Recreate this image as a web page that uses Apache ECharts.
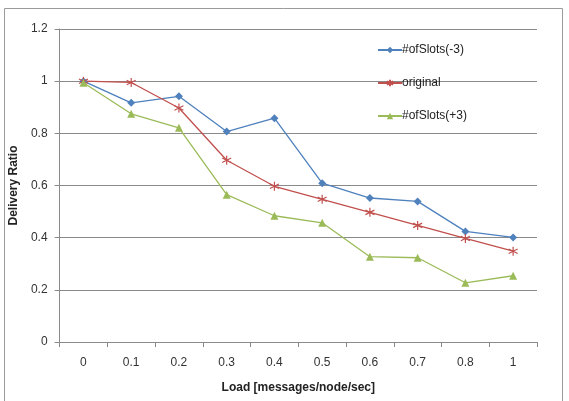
<!DOCTYPE html>
<html>
<head>
<meta charset="utf-8">
<script src="https://cdn.jsdelivr.net/npm/echarts@6/dist/echarts.min.js"></script>
<style>
  html, body { margin: 0; padding: 0; background: #fff; }
  #chart { width: 569px; height: 401px; }
</style>
</head>
<body>
<div id="chart"></div>
<script>
// Load levels (messages/node/sec)
const loads = ['0', '0.1', '0.2', '0.3', '0.4', '0.5', '0.6', '0.7', '0.8', '1'];
// Delivery ratio per configuration
const slotsMinus3 = [1.0, 0.917, 0.942, 0.807, 0.858, 0.609, 0.552, 0.539, 0.424, 0.401];
const original    = [1.0, 0.995, 0.897, 0.697, 0.597, 0.547, 0.497, 0.447, 0.397, 0.348];
const slotsPlus3  = [0.994, 0.875, 0.821, 0.565, 0.484, 0.457, 0.327, 0.323, 0.227, 0.254];
const yTicks = { min: 0, max: 1.2, interval: 0.2 };

const font = 'Liberation Sans, Arial, sans-serif';
const asterisk = 'path://M0,-5L0,5M-4.3,-2.5L4.3,2.5M-4.3,2.5L4.3,-2.5';

const chart = echarts.init(document.getElementById('chart'), null, { renderer: 'canvas' });
chart.setOption({
  animation: false,
  backgroundColor: '#fff',
  graphic: [{
    type: 'rect',
    shape: { x: 4.5, y: 8.5, width: 558, height: 400 },
    style: { fill: 'none', stroke: '#9a9a9a', lineWidth: 1 },
    silent: true,
    z: -1
  }],
  grid: { left: 56, right: 32, top: 29, bottom: 59 },
  legend: {
    orient: 'vertical',
    left: 372,
    top: 39,
    itemWidth: 24,
    itemHeight: 8,
    itemGap: 21,
    textStyle: { fontFamily: font, fontSize: 12, color: '#222', padding: [0, 0, 0, -5] },
    data: ['#ofSlots(-3)', 'original', '#ofSlots(+3)']
  },
  xAxis: {
    type: 'category',
    data: loads,
    boundaryGap: true,
    name: 'Load [messages/node/sec]',
    nameLocation: 'middle',
    nameGap: 40,
    nameTextStyle: { fontFamily: font, fontSize: 12, color: '#222', fontWeight: 'bold' },
    axisLine: { lineStyle: { color: '#8a8a8a' } },
    axisTick: { show: true, length: 5, lineStyle: { color: '#8a8a8a' } },
    axisLabel: { fontFamily: font, fontSize: 12, color: '#333', margin: 15 },
    splitLine: { show: false }
  },
  yAxis: {
    type: 'value',
    min: yTicks.min,
    max: yTicks.max,
    interval: yTicks.interval,
    name: 'Delivery Ratio',
    nameLocation: 'middle',
    nameGap: 33,
    nameTextStyle: { fontFamily: font, fontSize: 12, color: '#222', fontWeight: 'bold' },
    axisLine: { show: true, lineStyle: { color: '#8a8a8a' } },
    axisTick: { show: true, length: 5, inside: false, lineStyle: { color: '#8a8a8a' } },
    axisLabel: {
      fontFamily: font, fontSize: 12, color: '#333', margin: 12,
      formatter: v => String(Math.round(v * 10) / 10)
    },
    splitLine: { lineStyle: { color: '#8a8a8a', width: 1 } }
  },
  series: [
    {
      name: '#ofSlots(-3)',
      type: 'line',
      data: slotsMinus3,
      symbol: 'diamond',
      symbolSize: 8,
      lineStyle: { color: '#4F81BD', width: 1.3 },
      itemStyle: { color: '#4F81BD' }
    },
    {
      name: 'original',
      type: 'line',
      data: original,
      symbol: asterisk,
      symbolSize: 9,
      lineStyle: { color: '#C0504D', width: 1.3 },
      itemStyle: { color: '#C0504D', borderColor: '#C0504D', borderWidth: 1.2 }
    },
    {
      name: '#ofSlots(+3)',
      type: 'line',
      data: slotsPlus3,
      symbol: 'triangle',
      symbolSize: 8,
      lineStyle: { color: '#9BBB59', width: 1.3 },
      itemStyle: { color: '#9BBB59' }
    }
  ]
});
</script>
</body>
</html>
